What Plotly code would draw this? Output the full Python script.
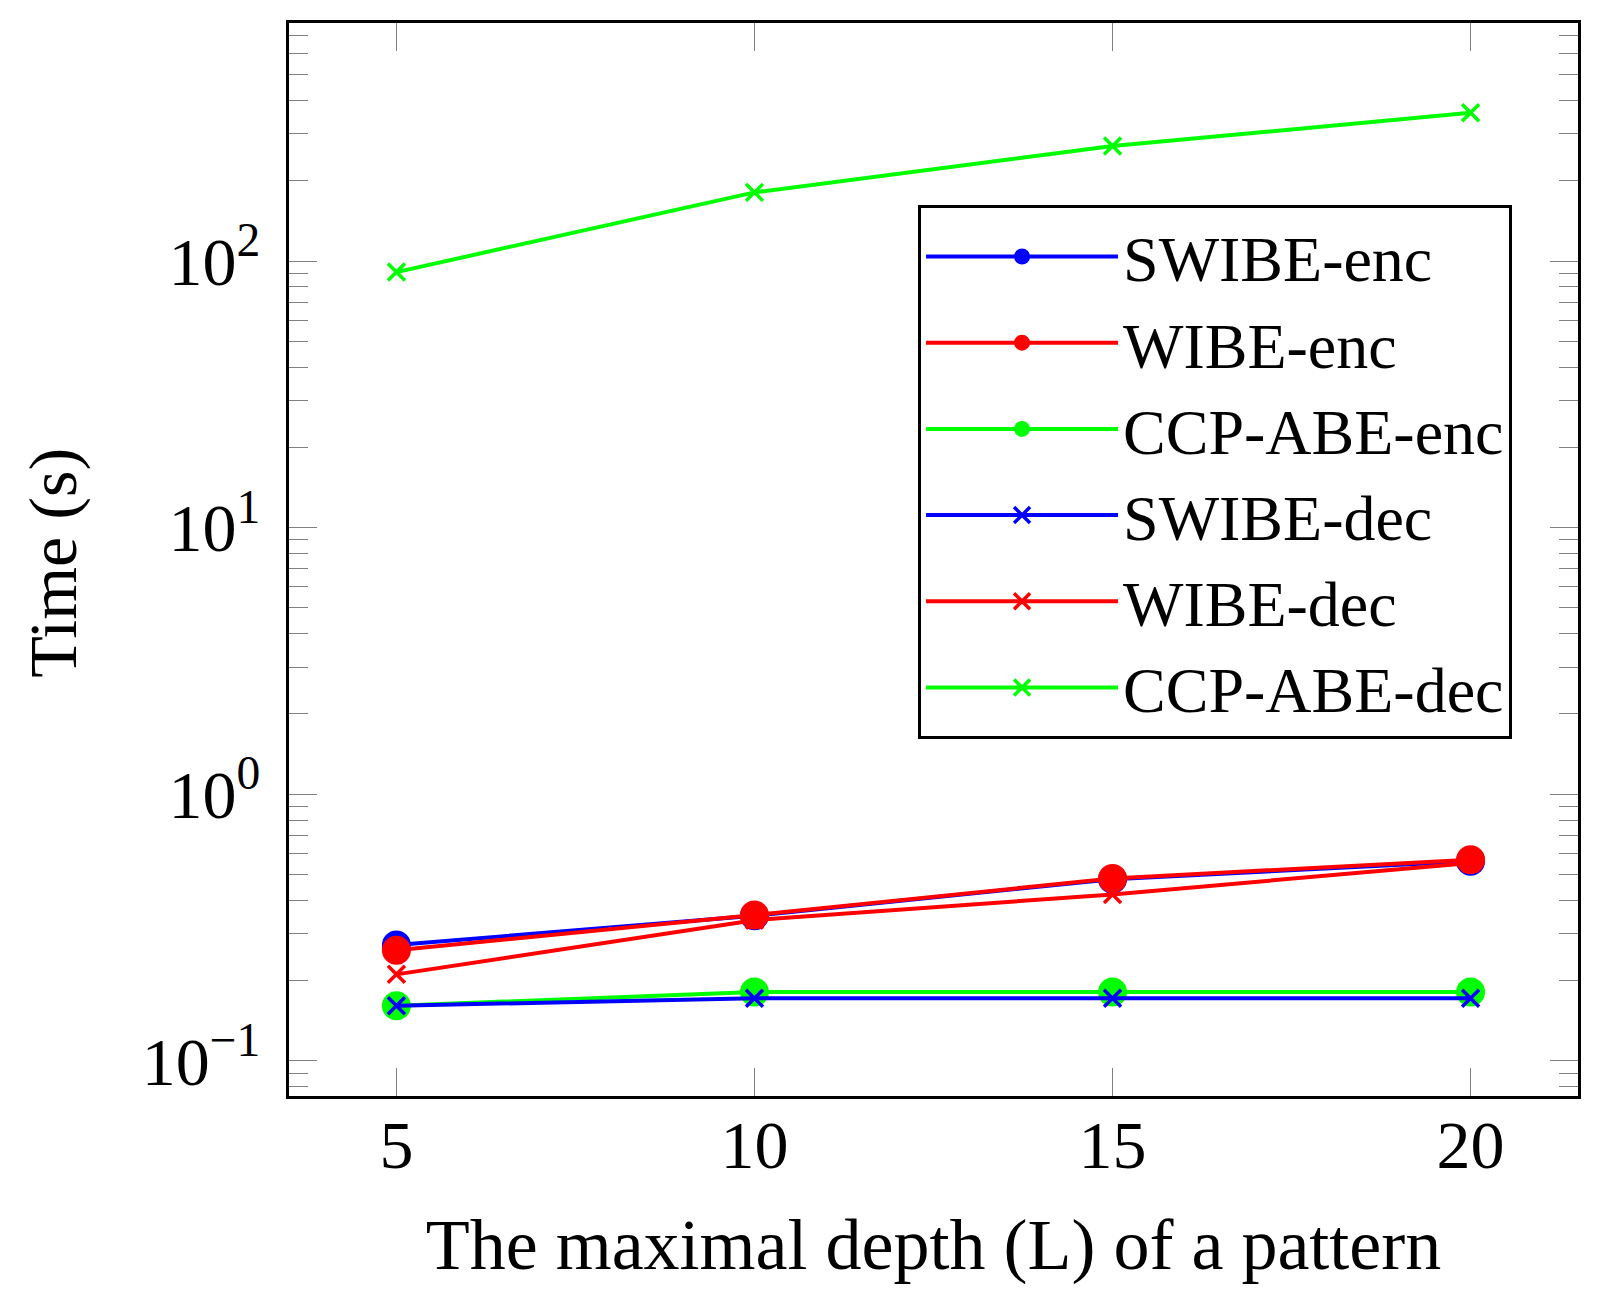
import plotly.graph_objects as go

# maximal depth L
depth = [5, 10, 15, 20]

# times in seconds
swibe_enc = [0.272, 0.350, 0.480, 0.560]
wibe_enc = [0.260, 0.352, 0.483, 0.568]
ccp_abe_enc = [0.161, 0.181, 0.181, 0.181]
swibe_dec = [0.161, 0.1715, 0.1715, 0.1715]
wibe_dec = [0.211, 0.337, 0.421, 0.552]
ccp_abe_dec = [90.9, 181, 270, 360]

y_tickvals = [0.1, 1, 10, 100]
y_ticktext = ["10<sup>\u22121</sup>", "10<sup>0</sup>", "10<sup>1</sup>", "10<sup>2</sup>"]
y_minor = [0.08, 0.09] + [m * 10 ** e for e in (-1, 0, 1) for m in range(2, 10)] + [200, 300, 400, 500, 600, 700]

FONT = "Liberation Serif"

series = [
    ("SWIBE-enc", swibe_enc, "#0000ff", "circle"),
    ("WIBE-enc", wibe_enc, "#ff0000", "circle"),
    ("CCP-ABE-enc", ccp_abe_enc, "#00ff00", "circle"),
    ("SWIBE-dec", swibe_dec, "#0000ff", "x-thin"),
    ("WIBE-dec", wibe_dec, "#ff0000", "x-thin"),
    ("CCP-ABE-dec", ccp_abe_dec, "#00ff00", "x-thin"),
]

fig = go.Figure()
for name, vals, color, sym in series:
    if sym == "circle":
        marker = dict(symbol="circle", size=29, color=color)
    else:
        marker = dict(symbol="x-thin", size=17, color=color, line=dict(color=color, width=3.5))
    fig.add_trace(
        go.Scatter(
            x=depth,
            y=vals,
            name=name,
            mode="lines+markers",
            line=dict(color=color, width=4),
            marker=marker,
        )
    )

fig.update_layout(
    width=1610,
    height=1309,
    margin=dict(l=281, r=40, t=12, b=221),
    plot_bgcolor="white",
    paper_bgcolor="white",
    font=dict(family=FONT, size=66, color="black"),
    legend=dict(
        x=0.488,
        y=0.83,
        xanchor="left",
        yanchor="top",
        bgcolor="white",
        bordercolor="black",
        borderwidth=3,
        font=dict(family=FONT, size=64),
        itemwidth=192,
        tracegroupgap=0,
    ),
)

# y title placed by hand so it sits as far left as in the reference
fig.add_annotation(
    text="Time (s)",
    xref="paper",
    yref="paper",
    x=-0.183,
    y=0.497,
    xanchor="center",
    yanchor="middle",
    textangle=-90,
    showarrow=False,
    borderpad=0,
    font=dict(family=FONT, size=68),
)

fig.update_xaxes(
    range=[3.5, 21.5],
    tickvals=depth,
    ticks="inside",
    ticklen=28,
    tickwidth=1,
    tickcolor="gray",
    showline=True,
    linecolor="black",
    linewidth=3,
    mirror="ticks",
    showgrid=False,
    zeroline=False,
    tickfont=dict(size=68),
    ticklabelstandoff=-13,
    title=dict(text="The maximal depth (L) of a pattern", font=dict(size=72), standoff=38),
)

fig.update_yaxes(
    type="log",
    range=[-1.132, 2.893],
    tickvals=y_tickvals,
    ticktext=y_ticktext,
    ticks="inside",
    ticklen=28,
    tickwidth=1,
    tickcolor="gray",
    minor=dict(tickvals=y_minor, ticks="inside", ticklen=19, tickwidth=1, tickcolor="gray", showgrid=False),
    showline=True,
    linecolor="black",
    linewidth=3,
    mirror="ticks",
    showgrid=False,
    zeroline=False,
    tickfont=dict(size=68),
    ticklabelstandoff=12,
)

fig.write_html("out.html")
